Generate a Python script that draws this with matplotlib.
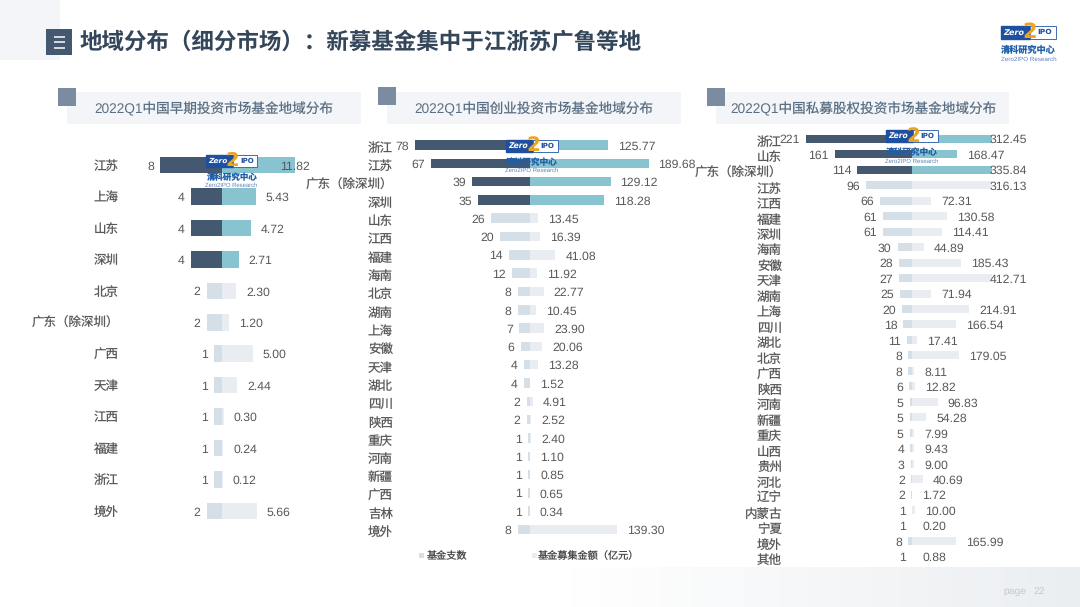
import matplotlib

matplotlib.use("Agg")
import matplotlib.pyplot as plt
import numpy as np
from matplotlib.patches import Rectangle

W, H = 1080, 607
FONT = ["Liberation Sans", "Noto Sans CJK SC", "DejaVu Sans"]
plt.rcParams["font.family"] = FONT
plt.rcParams["text.hinting"] = "no_hinting"

# ---- data ----
TITLE = "地域分布（细分市场）：新募基金集中于江浙苏广鲁等地"

early_names = ["江苏", "上海", "山东", "深圳", "北京", "广东（除深圳）", "广西", "天津", "江西", "福建", "浙江", "境外"]
early_funds = [8, 4, 4, 4, 2, 2, 1, 1, 1, 1, 1, 2]
early_amount = [11.82, 5.43, 4.72, 2.71, 2.30, 1.20, 5.00, 2.44, 0.30, 0.24, 0.12, 5.66]

vc_names = ["浙江", "江苏", "广东（除深圳）", "深圳", "山东", "江西", "福建", "海南", "北京", "湖南", "上海",
            "安徽", "天津", "湖北", "四川", "陕西", "重庆", "河南", "新疆", "广西", "吉林", "境外"]
vc_funds = [78, 67, 39, 35, 26, 20, 14, 12, 8, 8, 7, 6, 4, 4, 2, 2, 1, 1, 1, 1, 1, 8]
vc_amount = [125.77, 189.68, 129.12, 118.28, 13.45, 16.39, 41.08, 11.92, 22.77, 10.45, 23.90,
             20.06, 13.28, 1.52, 4.91, 2.52, 2.40, 1.10, 0.85, 0.65, 0.34, 139.30]

pe_names = ["浙江", "山东", "广东（除深圳）", "江苏", "江西", "福建", "深圳", "海南", "安徽", "天津", "湖南", "上海",
            "四川", "湖北", "北京", "广西", "陕西", "河南", "新疆", "重庆", "山西", "贵州", "河北", "辽宁",
            "内蒙古", "宁夏", "境外", "其他"]
pe_funds = [221, 161, 114, 96, 66, 61, 61, 30, 28, 27, 25, 20, 18, 11, 8, 8, 6, 5, 5, 5, 4, 3, 2, 2, 1, 1, 8, 1]
pe_amount = [312.45, 168.47, 335.84, 316.13, 72.31, 130.58, 114.41, 44.89, 185.43, 412.71, 71.94, 214.91,
             166.54, 17.41, 179.05, 8.11, 12.82, 96.83, 54.28, 7.99, 9.43, 9.00, 40.69, 1.72, 10.00, 0.20,
             165.99, 0.88]

legend_names = ["基金支数", "基金募集金额（亿元）"]

# colours
DARK, TEAL = "#44586f", "#88c4d0"
PALE_DARK, PALE_TEAL = "#d5dfe7", "#e9edf1"
HEAD = "#5b6f84"
TEXT = "#595959"

# each panel: rows, pixel geometry, axis limits
panels = [
    dict(title="2022Q1中国早期投资市场基金地域分布", names=early_names, funds=early_funds, amount=early_amount,
         hot=4, cx=222, left=62, right=73, fmax=8, amax=11.82, top=165, bot=511, bar=16.5,
         name_x=119, name_dy=1.5, cap=58, gap=10,
         rect=(67, 92, 294), square=(58, 88), tx=94),
    dict(title="2022Q1中国创业投资市场基金地域分布", names=vc_names, funds=vc_funds, amount=vc_amount,
         hot=4, cx=529.5, left=115, right=119, fmax=78, amax=189.68, top=145, bot=529.5, bar=9.5,
         name_x=393, name_dy=3.5, cap=999, gap=10,
         rect=(387, 92, 294), square=(378, 87), tx=414),
    dict(title="2022Q1中国私募股权投资市场基金地域分布", names=pe_names, funds=pe_funds, amount=pe_amount,
         hot=3, cx=912, left=106, right=80, fmax=221, amax=302, top=138.7, bot=556.7, bar=8,
         name_x=782, name_dy=4, cap=78, gap=10,
         rect=(716, 92, 293), square=(707, 88), tx=730),
]


def px_axes(fig, x0, y0, x1, y1, **kw):
    """Axes from pixel box, y measured from the top of the picture."""
    return fig.add_axes([x0 / W, 1 - y1 / H, (x1 - x0) / W, (y1 - y0) / H], **kw)


def draw_logo(ax, x, y, w):
    # x, y = top left of the blue/white plate
    k = w / 51.0
    ax.add_patch(Rectangle((x, y), 0.52 * w, 12 * k, color="#1f4f9f", zorder=2))
    ax.add_patch(Rectangle((x + 0.52 * w, y), 0.48 * w, 12 * k, fc="white", ec="#3c6cb4", lw=0.7, zorder=2))
    ax.text(x + 0.23 * w, y + 6 * k, "Zero", color="white", fontsize=5.4 * k, fontweight="bold", style="italic",
            family="DejaVu Sans", ha="center", va="center", zorder=3)
    ax.text(x + 0.80 * w, y + 6 * k, "IPO", color="#1f4f9f", fontsize=5 * k, fontweight="bold",
            family="DejaVu Sans", ha="center", va="center", zorder=3)
    ax.text(x + 0.52 * w, y + 6 * k, "2", color="#eda520", fontsize=14 * k, fontweight="bold",
            family="DejaVu Sans", ha="center", va="center", zorder=4)
    ax.text(x + 0.5 * w, y + 22.5 * k, "清科研究中心", color="#1f5fa8", fontsize=6.1 * k, fontweight="bold",
            family=FONT[1:], ha="center", va="center", zorder=3)
    ax.text(x + 0.5 * w, y + 30.5 * k, "Zero2IPO Research", color="#5c82bd", fontsize=4.2 * k,
            ha="center", va="center", zorder=3)


fig = plt.figure(figsize=(W / 100, H / 100), dpi=100, facecolor="white")

# ---- background layer (pixel coordinates) ----
bg = px_axes(fig, 0, 0, W, H, zorder=0)
bg.set_xlim(0, W); bg.set_ylim(H, 0); bg.axis("off")

bg.add_patch(Rectangle((0, 0), 60, 60, color="#f3f5f8", lw=0))
bg.add_patch(Rectangle((46, 29), 26, 26, color="#44596f", lw=0))
for yy in (36.5, 42, 47.5):
    bg.plot([53.5, 64.5], [yy, yy], color="white", lw=1.1, solid_capstyle="butt")
bg.text(80, 42.5, TITLE, fontsize=16.2, fontweight="bold", color="#34465a", va="center", ha="left", family=FONT[1:])

# bottom strip fades in to the right
fade = np.linspace(0, 1, 256).reshape(1, -1, 1)
strip = np.concatenate([1 - fade * (1 - c / 255) for c in (0xeb, 0xee, 0xf1)], axis=2)
bg.imshow(strip, extent=(570, W, H, 567), aspect="auto", zorder=0)
bg.set_xlim(0, W); bg.set_ylim(H, 0)
bg.text(1003, 591.5, "page", fontsize=7.5, color="#c3cad1", va="center")
bg.text(1033, 591.5, "22", fontsize=7.5, color="#c3cad1", va="center")

for p in panels:
    rx, ry, rw = p["rect"]
    bg.add_patch(Rectangle((rx, ry), rw, 32, color="#f3f5f8", lw=0))
    sx, sy = p["square"]
    bg.add_patch(Rectangle((sx, sy), 18, 17.5, color="#7b8ca0", lw=0))
    bg.text(p["tx"], 109, p["title"], fontsize=9.8, color=HEAD, va="center", ha="left")

# ---- the butterfly bars ----
for p in panels:
    n = len(p["names"])
    step = (p["bot"] - p["top"]) / (n - 1)
    y0, y1 = p["top"] - step / 2, p["bot"] + step / 2
    ax_l = px_axes(fig, p["cx"] - p["left"], y0, p["cx"], y1, zorder=2)
    ax_r = px_axes(fig, p["cx"], y0, p["cx"] + p["right"], y1, zorder=2)
    ax_l.set_xlim(p["fmax"], 0)
    ax_r.set_xlim(0, p["amax"])
    h = p["bar"] / step
    rows = np.arange(n)
    lc = [DARK if i < p["hot"] else PALE_DARK for i in rows]
    rc = [TEAL if i < p["hot"] else PALE_TEAL for i in rows]
    ax_l.barh(rows, p["funds"], height=h, color=lc)
    ax_r.barh(rows, p["amount"], height=h, color=rc)
    for ax in (ax_l, ax_r):
        ax.set_ylim(n - 0.5, -0.5)
        ax.axis("off")
        ax.patch.set_alpha(0)

    scale = p["right"] / p["amax"]
    for i in rows:
        ax_l.annotate(str(p["funds"][i]), xy=(p["funds"][i], i), xytext=(-6, -1.5), textcoords="offset pixels",
                      ha="right", va="center", fontsize=8.8, color=TEXT, annotation_clip=False)
        lab_x = min(p["amount"][i] * scale + p["gap"], p["cap"]) / scale
        ax_r.annotate("%.2f" % p["amount"][i], xy=(lab_x, i), xytext=(0, -1.5), textcoords="offset pixels",
                      ha="left", va="center", fontsize=8.8, color=TEXT, annotation_clip=False)
        ax_l.annotate(p["names"][i], xy=(0, i), xycoords=ax_l.get_yaxis_transform(),
                      xytext=(p["name_x"] - (p["cx"] - p["left"]), -p["name_dy"]), textcoords="offset pixels",
                      ha="right", va="center", fontsize=9.0, color=TEXT, annotation_clip=False)

# ---- watermark logos and legend on top ----
top = px_axes(fig, 0, 0, W, H, zorder=5)
top.set_xlim(0, W); top.set_ylim(H, 0); top.axis("off"); top.patch.set_alpha(0)
draw_logo(top, 206, 155, 51)
draw_logo(top, 506, 139.5, 52)
draw_logo(top, 886, 130, 52)
draw_logo(top, 1001, 26, 55)

top.add_patch(Rectangle((419, 552.5), 5, 5, color=PALE_DARK, lw=0))
top.text(427, 556, legend_names[0], fontsize=7.3, color="#484848", va="center", family=FONT[1:])
top.add_patch(Rectangle((532, 552.5), 5, 5, color=PALE_TEAL, lw=0))
top.text(538, 556, legend_names[1], fontsize=7.3, color="#484848", va="center", family=FONT[1:])

fig.savefig("out.png", dpi=100)
plt.close(fig)
